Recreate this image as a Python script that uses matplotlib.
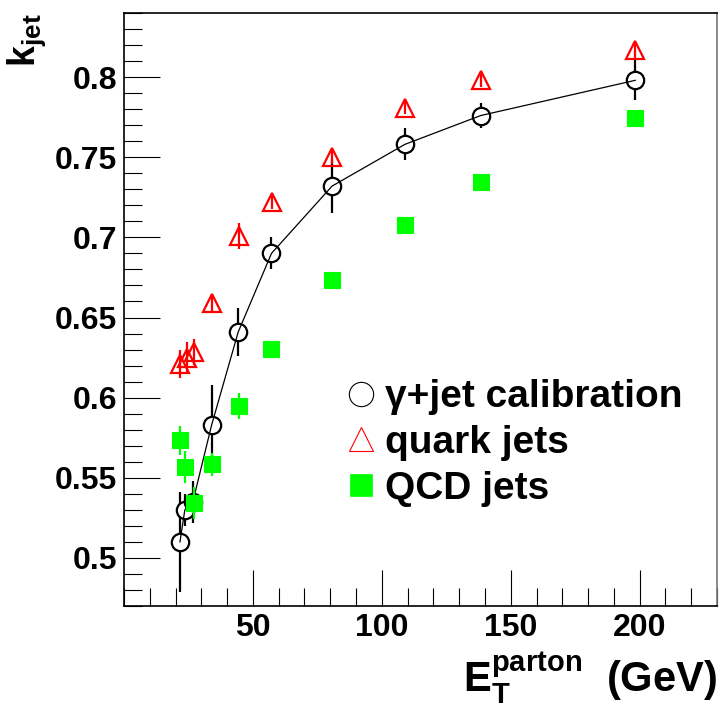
import matplotlib
matplotlib.use('Agg')
import matplotlib.pyplot as plt
from matplotlib.ticker import MultipleLocator, FixedLocator, FormatStrFormatter
from matplotlib.lines import Line2D

plt.rcParams['font.family'] = ['Liberation Sans', 'DejaVu Sans']
plt.rcParams['font.weight'] = 'bold'
plt.rcParams['mathtext.fontset'] = 'custom'
plt.rcParams['mathtext.bf'] = 'Liberation Sans:bold'
plt.rcParams['mathtext.rm'] = 'Liberation Sans:bold'
plt.rcParams['mathtext.it'] = 'Liberation Sans:bold'
plt.rcParams['mathtext.default'] = 'bf'

# ---- data ----
et_gamma = [21.7, 23.6, 26.7, 34.0, 44.3, 57.2, 80.7, 108.9, 138.3, 198.3]
k_gamma = [0.510, 0.530, 0.535, 0.583, 0.641, 0.690, 0.732, 0.758, 0.776, 0.798]
k_gamma_err = [0.031, 0.010, 0.013, 0.025, 0.015, 0.010, 0.017, 0.010, 0.008, 0.0125]

et_quark = [21.7, 24.3, 27.2, 34.0, 44.7, 57.5, 80.7, 108.9, 138.3, 198.3]
k_quark = [0.621, 0.625, 0.6285, 0.659, 0.701, 0.722, 0.750, 0.781, 0.798, 0.817]
k_quark_err = [0.009, 0.010, 0.008, 0.005, 0.008, 0.004, 0.004, 0.004, 0.004, 0.005]

et_qcd = [21.7, 23.6, 27.0, 34.0, 44.7, 57.2, 80.7, 109.0, 138.3, 198.3]
k_qcd = [0.5733, 0.557, 0.534, 0.5583, 0.5948, 0.6302, 0.6737, 0.7077, 0.7348, 0.7746]
k_qcd_err = [0.009, 0.010, 0.010, 0.007, 0.008, 0.004, 0.003, 0.003, 0.003, 0.003]

x_major = [50, 100, 150, 200]
y_major = [0.5, 0.55, 0.6, 0.65, 0.7, 0.75, 0.8]
labels = ['\u03b3+jet calibration', 'quark jets', 'QCD jets']

GREEN = '#00ff00'
RED = '#ff0000'

fig = plt.figure(figsize=(7.2, 7.07), dpi=100)
ax = fig.add_axes([124/720, 1-606/707, (717-124)/720, (606-13)/707])

# gamma+jet: error bars, white-filled circles, then line on top
ax.errorbar(et_gamma, k_gamma, yerr=k_gamma_err, fmt='none', ecolor='black',
            elinewidth=1.6, capsize=0, zorder=2)
ax.plot(et_gamma, k_gamma, linestyle='none', marker='o', ms=12.5, mew=1.6,
        mec='black', mfc='white', zorder=3)
ax.plot(et_gamma, k_gamma, color='black', lw=0.9, zorder=4)

# quark jets
ax.errorbar(et_quark, k_quark, yerr=k_quark_err, fmt='none', ecolor=RED,
            elinewidth=1.6, capsize=0, zorder=5)
ax.plot(et_quark, k_quark, linestyle='none', marker='^', ms=13, mew=1.6,
        mec=RED, mfc='none', zorder=6)

# QCD jets
ax.errorbar(et_qcd, k_qcd, yerr=k_qcd_err, fmt='none', ecolor=GREEN,
            elinewidth=1.6, capsize=0, zorder=7)
ax.plot(et_qcd, k_qcd, linestyle='none', marker='s', ms=12, mew=0.8,
        mec=GREEN, mfc=GREEN, zorder=8)

ax.set_xlim(0, 230)
ax.set_ylim(0.47, 0.84)
ax.xaxis.set_major_locator(FixedLocator(x_major))
ax.xaxis.set_minor_locator(MultipleLocator(10))
ax.yaxis.set_major_locator(FixedLocator(y_major))
ax.yaxis.set_minor_locator(MultipleLocator(0.01))
ax.yaxis.set_major_formatter(FormatStrFormatter('%g'))
ax.tick_params(which='major', direction='in', length=26, width=0.8,
               labelsize=23, pad=5, top=False, right=False)
ax.tick_params(which='minor', direction='in', length=13, width=0.8,
               top=False, right=False)
for lab in ax.get_xticklabels() + ax.get_yticklabels():
    lab.set_fontweight('bold')
for s in ax.spines.values():
    s.set_linewidth(1.2)
ax.spines['right'].set_color('#777777')

# axis titles
fig.text(27/720, 1-13/707, r'$k_{jet}$', rotation=90, ha='center', va='top',
         fontsize=27)
fig.text(717/720, 1-692/707, r'$E_{T}^{parton}$  (GeV)', ha='right',
         va='baseline', fontsize=30, fontweight='bold')

# legend
handles = [
    Line2D([], [], linestyle='none', marker='o', ms=17.5, mew=0.8, mec='black', mfc='none'),
    Line2D([], [], linestyle='none', marker='^', ms=17.5, mew=0.8, mec=RED, mfc='none'),
    Line2D([], [], linestyle='none', marker='s', ms=16.5, mew=0.5, mec=GREEN, mfc=GREEN),
]
ax.legend(handles, labels, loc='center left', bbox_to_anchor=(343/720, 1-443/707),
          bbox_transform=fig.transFigure, frameon=False, borderpad=0,
          borderaxespad=0, handlelength=0.95, handletextpad=0.12,
          labelspacing=0.25, prop={'size': 28, 'weight': 'bold'})

fig.savefig('out.png', dpi=100)
